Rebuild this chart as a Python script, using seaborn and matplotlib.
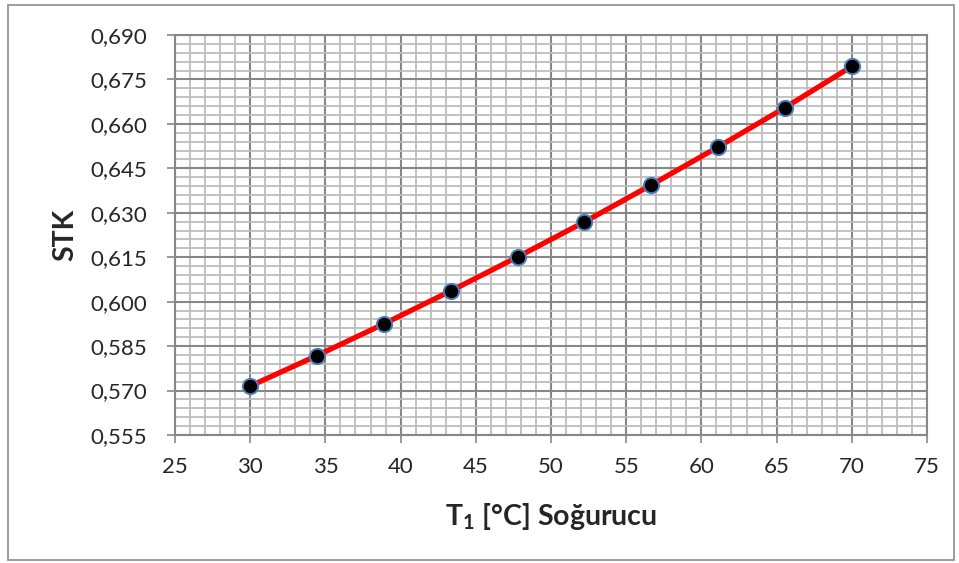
import numpy as np
import pandas as pd
import matplotlib
matplotlib.use('Agg')
import matplotlib.pyplot as plt
from matplotlib.ticker import MultipleLocator, FuncFormatter
from matplotlib.patches import Rectangle
import seaborn as sns

# veriler
t1 = [30.0, 34.44, 38.89, 43.33, 47.78, 52.22, 56.67, 61.11, 65.56, 70.0]
stk = [0.5715, 0.5818, 0.5925, 0.6036, 0.6151, 0.6269, 0.6394, 0.6522, 0.6655, 0.6794]
x_ticks = [25, 30, 35, 40, 45, 50, 55, 60, 65, 70, 75]
y_ticks = [0.555, 0.570, 0.585, 0.600, 0.615, 0.630, 0.645, 0.660, 0.675, 0.690]

df = pd.DataFrame({'T1': t1, 'STK': stk})

sns.set_style('white')
plt.rcParams['font.family'] = ['Lato', 'DejaVu Sans']
plt.rcParams['mathtext.fontset'] = 'custom'
plt.rcParams['mathtext.bf'] = 'Lato:bold'
plt.rcParams['mathtext.rm'] = 'Lato'

fig = plt.figure(figsize=(9.59, 5.63), dpi=100)
ax = fig.add_axes([0.1825, 0.2274, 0.7841, 0.7104])

# dis cerceve
fig.patches.append(Rectangle((8 / 959, 3 / 563), 946 / 959, 555 / 563,
                             transform=fig.transFigure, fill=False,
                             edgecolor='#8c8c8c', linewidth=1.2))

sns.lineplot(data=df, x='T1', y='STK', ax=ax, color='#ff0000', linewidth=3.8,
             marker='o', markersize=11, markerfacecolor='black',
             markeredgecolor='#4a7ebb', markeredgewidth=1.4, zorder=5)

ax.set_xlim(x_ticks[0], x_ticks[-1])
ax.set_ylim(y_ticks[0], y_ticks[-1])
ax.set_xticks(x_ticks)
ax.set_yticks(y_ticks)
ax.xaxis.set_minor_locator(MultipleLocator(1))
ax.yaxis.set_minor_locator(MultipleLocator(0.003))
ax.yaxis.set_major_formatter(FuncFormatter(lambda v, p: f'{v:.3f}'.replace('.', ',')))

ax.grid(which='major', color='#878787', linewidth=1.5)
ax.grid(which='minor', color='#bdbdbd', linewidth=1.3)
ax.set_axisbelow(True)

for s in ax.spines.values():
    s.set_color('#878787')
    s.set_linewidth(1.5)

ax.tick_params(which='major', direction='out', length=6, width=1.2, color='#878787',
               labelsize=16, left=True, bottom=True)
ax.tick_params(axis='y', which='major', pad=14)
ax.tick_params(axis='x', which='major', pad=10)
ax.tick_params(which='minor', length=0)

ax.set_xlabel(r'$\mathbf{T_1}$ [°C] Soğurucu', fontsize=20.5, fontweight='bold', labelpad=17)
ax.set_ylabel('STK', fontsize=20.5, fontweight='bold', labelpad=9)

fig.savefig('out.png', dpi=100)
